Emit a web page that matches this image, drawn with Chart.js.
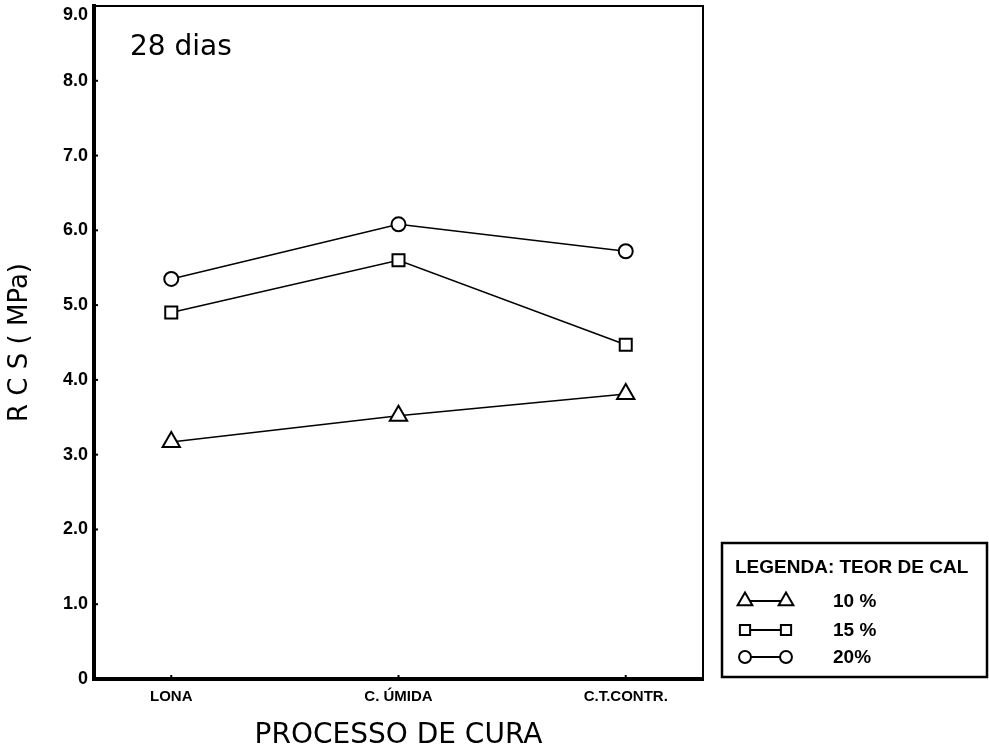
<!DOCTYPE html>
<html>
<head>
<meta charset="utf-8">
<script src="https://cdn.jsdelivr.net/npm/chart.js@4/dist/chart.umd.min.js"></script>
<style>
html,body{margin:0;padding:0;background:#fff;}
#wrap{width:989px;height:755px;position:relative;}
</style>
</head>
<body>
<div id="wrap"><canvas id="c" width="989" height="755"></canvas></div>
<script>
const categories = ['LONA', 'C. ÚMIDA', 'C.T.CONTR.'];
const yTickLabels = ['0', '1.0', '2.0', '3.0', '4.0', '5.0', '6.0', '7.0', '8.0', '9.0'];
const seriesNames = ['10 %', '15 %', '20%'];
const teor10 = [3.17, 3.52, 3.81];
const teor15 = [4.90, 5.60, 4.47];
const teor20 = [5.35, 6.08, 5.72];
const panelLabel = '28 dias';
const legendTitle = 'LEGENDA: TEOR DE CAL';
const xTitle = 'PROCESSO DE CURA';
const yTitle = 'R C S ( MPa)';

function pts(arr){ return arr.map((v,i)=>({x:i,y:v})); }

const styles = [
  {pointStyle:'triangle', radius:10},
  {pointStyle:'rect', radius:8.5},
  {pointStyle:'circle', radius:7}
];
const seriesData = [teor10, teor15, teor20];

const datasets = seriesData.map((arr,i)=>({
  label: seriesNames[i],
  data: pts(arr),
  borderColor:'#000',
  borderWidth:1.5,
  backgroundColor:'#fff',
  pointStyle: styles[i].pointStyle,
  pointRadius: styles[i].radius,
  pointBackgroundColor:'#fff',
  pointBorderColor:'#000',
  pointBorderWidth:2,
  tension:0
}));

function drawMarker(ctx, style, r, x, y){
  ctx.save();
  ctx.fillStyle='#fff'; ctx.strokeStyle='#000'; ctx.lineWidth=2;
  ctx.beginPath();
  if(style==='circle'){ ctx.arc(x,y,r,0,Math.PI*2); }
  else if(style==='rect'){ const s=r*Math.SQRT1_2; ctx.rect(x-s,y-s,2*s,2*s); }
  else { let a=0; ctx.moveTo(x+Math.sin(a)*r, y-Math.cos(a)*r); a+=2*Math.PI/3; ctx.lineTo(x+Math.sin(a)*r, y-Math.cos(a)*r); a+=2*Math.PI/3; ctx.lineTo(x+Math.sin(a)*r, y-Math.cos(a)*r); ctx.closePath(); }
  ctx.fill(); ctx.stroke();
  ctx.restore();
}

const framePlugin = {
  id:'frame',
  beforeDatasetsDraw(chart){
    const {ctx, chartArea:a, scales} = chart;
    ctx.save();
    ctx.strokeStyle='#000';
    ctx.lineWidth=2;
    ctx.beginPath();
    ctx.moveTo(a.left, a.top); ctx.lineTo(a.right, a.top); ctx.lineTo(a.right, a.bottom);
    ctx.stroke();
    ctx.lineWidth=2;
    scales.y.ticks.forEach(t=>{
      const y = scales.y.getPixelForValue(t.value);
      ctx.beginPath(); ctx.moveTo(a.left, y); ctx.lineTo(a.left+4, y); ctx.stroke();
    });
    scales.x.ticks.forEach(t=>{
      const x = scales.x.getPixelForValue(t.value);
      ctx.beginPath(); ctx.moveTo(x, a.bottom); ctx.lineTo(x, a.bottom-4); ctx.stroke();
    });
    ctx.fillStyle='#000';
    ctx.font='28px "DejaVu Sans"';
    ctx.textBaseline='middle';
    ctx.textAlign='left';
    ctx.fillText(panelLabel, a.left+36, a.top+42);
    ctx.restore();
  },
  afterDraw(chart){
    const ctx = chart.ctx;
    const bx=722, by=543, bw=265, bh=134;
    ctx.save();
    ctx.strokeStyle='#000'; ctx.lineWidth=2.5;
    ctx.strokeRect(bx,by,bw,bh);
    ctx.fillStyle='#000';
    ctx.font='bold 19px "Liberation Sans"';
    ctx.textBaseline='middle'; ctx.textAlign='left';
    ctx.fillText(legendTitle, bx+13, by+25);
    const rows=[by+58, by+87, by+114];
    chart.data.datasets.forEach((ds,i)=>{
      const y=rows[i];
      ctx.strokeStyle='#000'; ctx.lineWidth=2;
      ctx.beginPath(); ctx.moveTo(bx+23,y); ctx.lineTo(bx+64,y); ctx.stroke();
      const r = styles[i].radius*0.85;
      drawMarker(ctx, ds.pointStyle, r, bx+23, y);
      drawMarker(ctx, ds.pointStyle, r, bx+64, y);
      ctx.fillStyle='#000';
      ctx.font='bold 19px "Liberation Sans"';
      ctx.fillText(ds.label, bx+111, y+1);
    });
    ctx.restore();
  }
};

new Chart(document.getElementById('c'), {
  type:'line',
  data:{datasets},
  options:{
    responsive:false,
    animation:false,
    layout:{autoPadding:false, padding:{top:6, right:286, bottom:0, left:0}},
    plugins:{legend:{display:false}, tooltip:{enabled:false}},
    scales:{
      x:{
        type:'linear', min:-0.34, max:2.34,
        afterBuildTicks(s){ s.ticks = categories.map((c,i)=>({value:i})); },
        afterFit(s){ s.height = 76; s.paddingLeft = 0; s.paddingRight = 0; },
        ticks:{ callback:(v)=>categories[v], color:'#000', font:{family:'Liberation Sans', weight:'bold', size:15}, padding:9, maxRotation:0, autoSkip:false },
        grid:{display:false, drawTicks:false},
        border:{display:true, color:'#000', width:4},
        title:{display:true, text:xTitle, color:'#000', font:{family:'DejaVu Sans', size:28}, padding:{top:0, bottom:2}}
      },
      y:{
        min:0, max:9,
        afterBuildTicks(s){ s.ticks = yTickLabels.map((c,i)=>({value:i})); },
        afterFit(s){ s.width = 94; s.paddingTop = 0; s.paddingBottom = 0; },
        ticks:{ callback:(v)=> v === yTickLabels.length-1 ? ['', yTickLabels[v]] : yTickLabels[v], color:'#000', font:{family:'Liberation Sans', weight:'bold', size:18, lineHeight:1.0}, padding:6 },
        grid:{display:false, drawTicks:false},
        border:{display:true, color:'#000', width:4},
        title:{display:true, text:yTitle, color:'#000', font:{family:'DejaVu Sans', size:26}, padding:{top:5, bottom:0}}
      }
    }
  },
  plugins:[framePlugin]
});
</script>
</body>
</html>
